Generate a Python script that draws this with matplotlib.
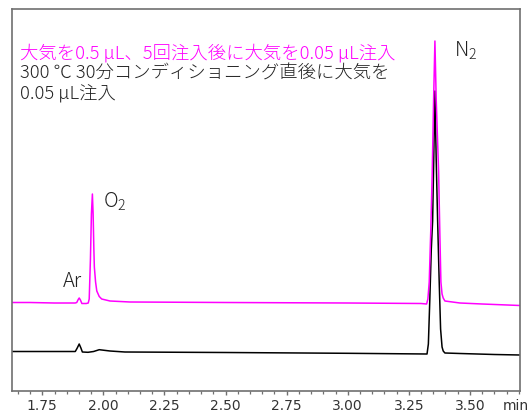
import matplotlib
matplotlib.use("Agg")
import matplotlib.pyplot as plt
from matplotlib.ticker import MultipleLocator, FormatStrFormatter

# ---- data ----
t_magenta = [1.626, 1.70, 1.80, 1.885, 1.891, 1.897, 1.901, 1.906, 1.912, 1.930,
             1.938, 1.942, 1.947, 1.951, 1.955, 1.958, 1.961, 1.963, 1.968, 1.973,
             1.983, 1.993, 2.027, 2.109, 2.50, 3.00, 3.30, 3.3228, 3.3280, 3.3335,
             3.3400, 3.3458, 3.3515, 3.3568, 3.3620, 3.3719, 3.3770, 3.3813, 3.3860,
             3.3907, 3.3977, 3.4591, 3.55, 3.7045]
s_magenta = [88.5, 88.5, 88, 88, 88.5, 91.5, 93, 91, 87.5, 87.5,
             88, 92, 132, 177, 197, 177, 142, 124, 109, 100,
             94.5, 92, 90, 89, 88.5, 88, 87.5, 87, 92, 109,
             162, 219, 292, 350, 292, 219, 157, 109, 97,
             93, 90, 88, 87, 85.5]

t_black = [1.626, 1.80, 1.885, 1.893, 1.901, 1.908, 1.914, 1.937, 1.960, 1.983,
           2.000, 2.027, 2.088, 2.50, 3.00, 3.3245, 3.3300, 3.3360, 3.3420, 3.3474,
           3.3520, 3.3568, 3.3620, 3.3679, 3.3740, 3.3800, 3.3860, 3.3907, 3.3977,
           3.46, 3.60, 3.7045]
s_black = [39.5, 39.5, 39.5, 43, 47, 43, 39, 38.7, 39.5, 41.3,
           40.8, 40, 39, 38.5, 37.7, 37, 47, 92, 142, 170,
           232, 300, 232, 170, 112, 62, 44, 40, 38,
           37.5, 36.5, 36]

peak_names = ["Ar", "O$_2$", "N$_2$"]
peak_label_x = [1.8335, 1.9997, 3.4365]
peak_label_y = [105, 184, 335.3]

legend_magenta = "大気を0.5 µL、5回注入後に大気を0.05 µL注入"
legend_black = ["300 ℃ 30分コンディショニング直後に大気を", "0.05 µL注入"]

xticks = [1.75, 2.00, 2.25, 2.50, 2.75, 3.00, 3.25, 3.50]

# ---- style ----
plt.rcParams['font.family'] = ['Noto Sans CJK JP', 'DejaVu Sans']
plt.rcParams['mathtext.default'] = 'regular'

W, H = 529, 414
fig = plt.figure(figsize=(W / 100, H / 100), dpi=100)
ax = fig.add_axes([12 / W, 1 - 392 / H, (520 - 12) / W, (392 - 10) / H])

MAG = '#ff00ff'
ax.plot(t_black, s_black, color='black', lw=1.1)
ax.plot(t_magenta, s_magenta, color=MAG, lw=1.1)

ax.set_xlim(1.626, 3.705)
ax.set_ylim(0, 382)

spine_c = '#707070'
for sp in ax.spines.values():
    sp.set_color(spine_c)
    sp.set_linewidth(1.2)

narrow = ['Liberation Sans Narrow', 'DejaVu Sans']
ax.set_yticks([])
ax.set_xticks(xticks)
ax.xaxis.set_major_formatter(FormatStrFormatter('%.2f'))
ax.xaxis.set_minor_locator(MultipleLocator(0.05))
ax.tick_params(axis='x', which='major', length=3.2, width=1.0, color=spine_c,
               pad=1.8, labelsize=10, labelcolor='#333333')
ax.tick_params(axis='x', which='minor', length=2.0, width=0.9, color=spine_c)
for lab in ax.get_xticklabels():
    lab.set_fontfamily(narrow)

ax.annotate('min', xy=(3.636, 0), xycoords=('data', 'axes fraction'),
            xytext=(0, -5.0), textcoords='offset points', ha='left', va='top',
            fontsize=10, color='#333333', family=narrow,
            annotation_clip=False)

# peak labels
for name, px, py in zip(peak_names, peak_label_x, peak_label_y):
    ax.text(px, py, name, fontsize=14.5, color='#222222', ha='left',
            va='baseline', fontweight='light')

# legend text
fig.text(20 / W, 1 - 58 / H, legend_magenta, fontsize=13.2, color=MAG,
         ha='left', va='baseline', fontweight='light')
fig.text(20 / W, 1 - 79 / H, legend_black[0], fontsize=13.2, color='#222222',
         ha='left', va='baseline', fontweight='light')
fig.text(20 / W, 1 - 100 / H, legend_black[1], fontsize=13.2, color='#222222',
         ha='left', va='baseline', fontweight='light')

fig.savefig('out.png', dpi=100)
